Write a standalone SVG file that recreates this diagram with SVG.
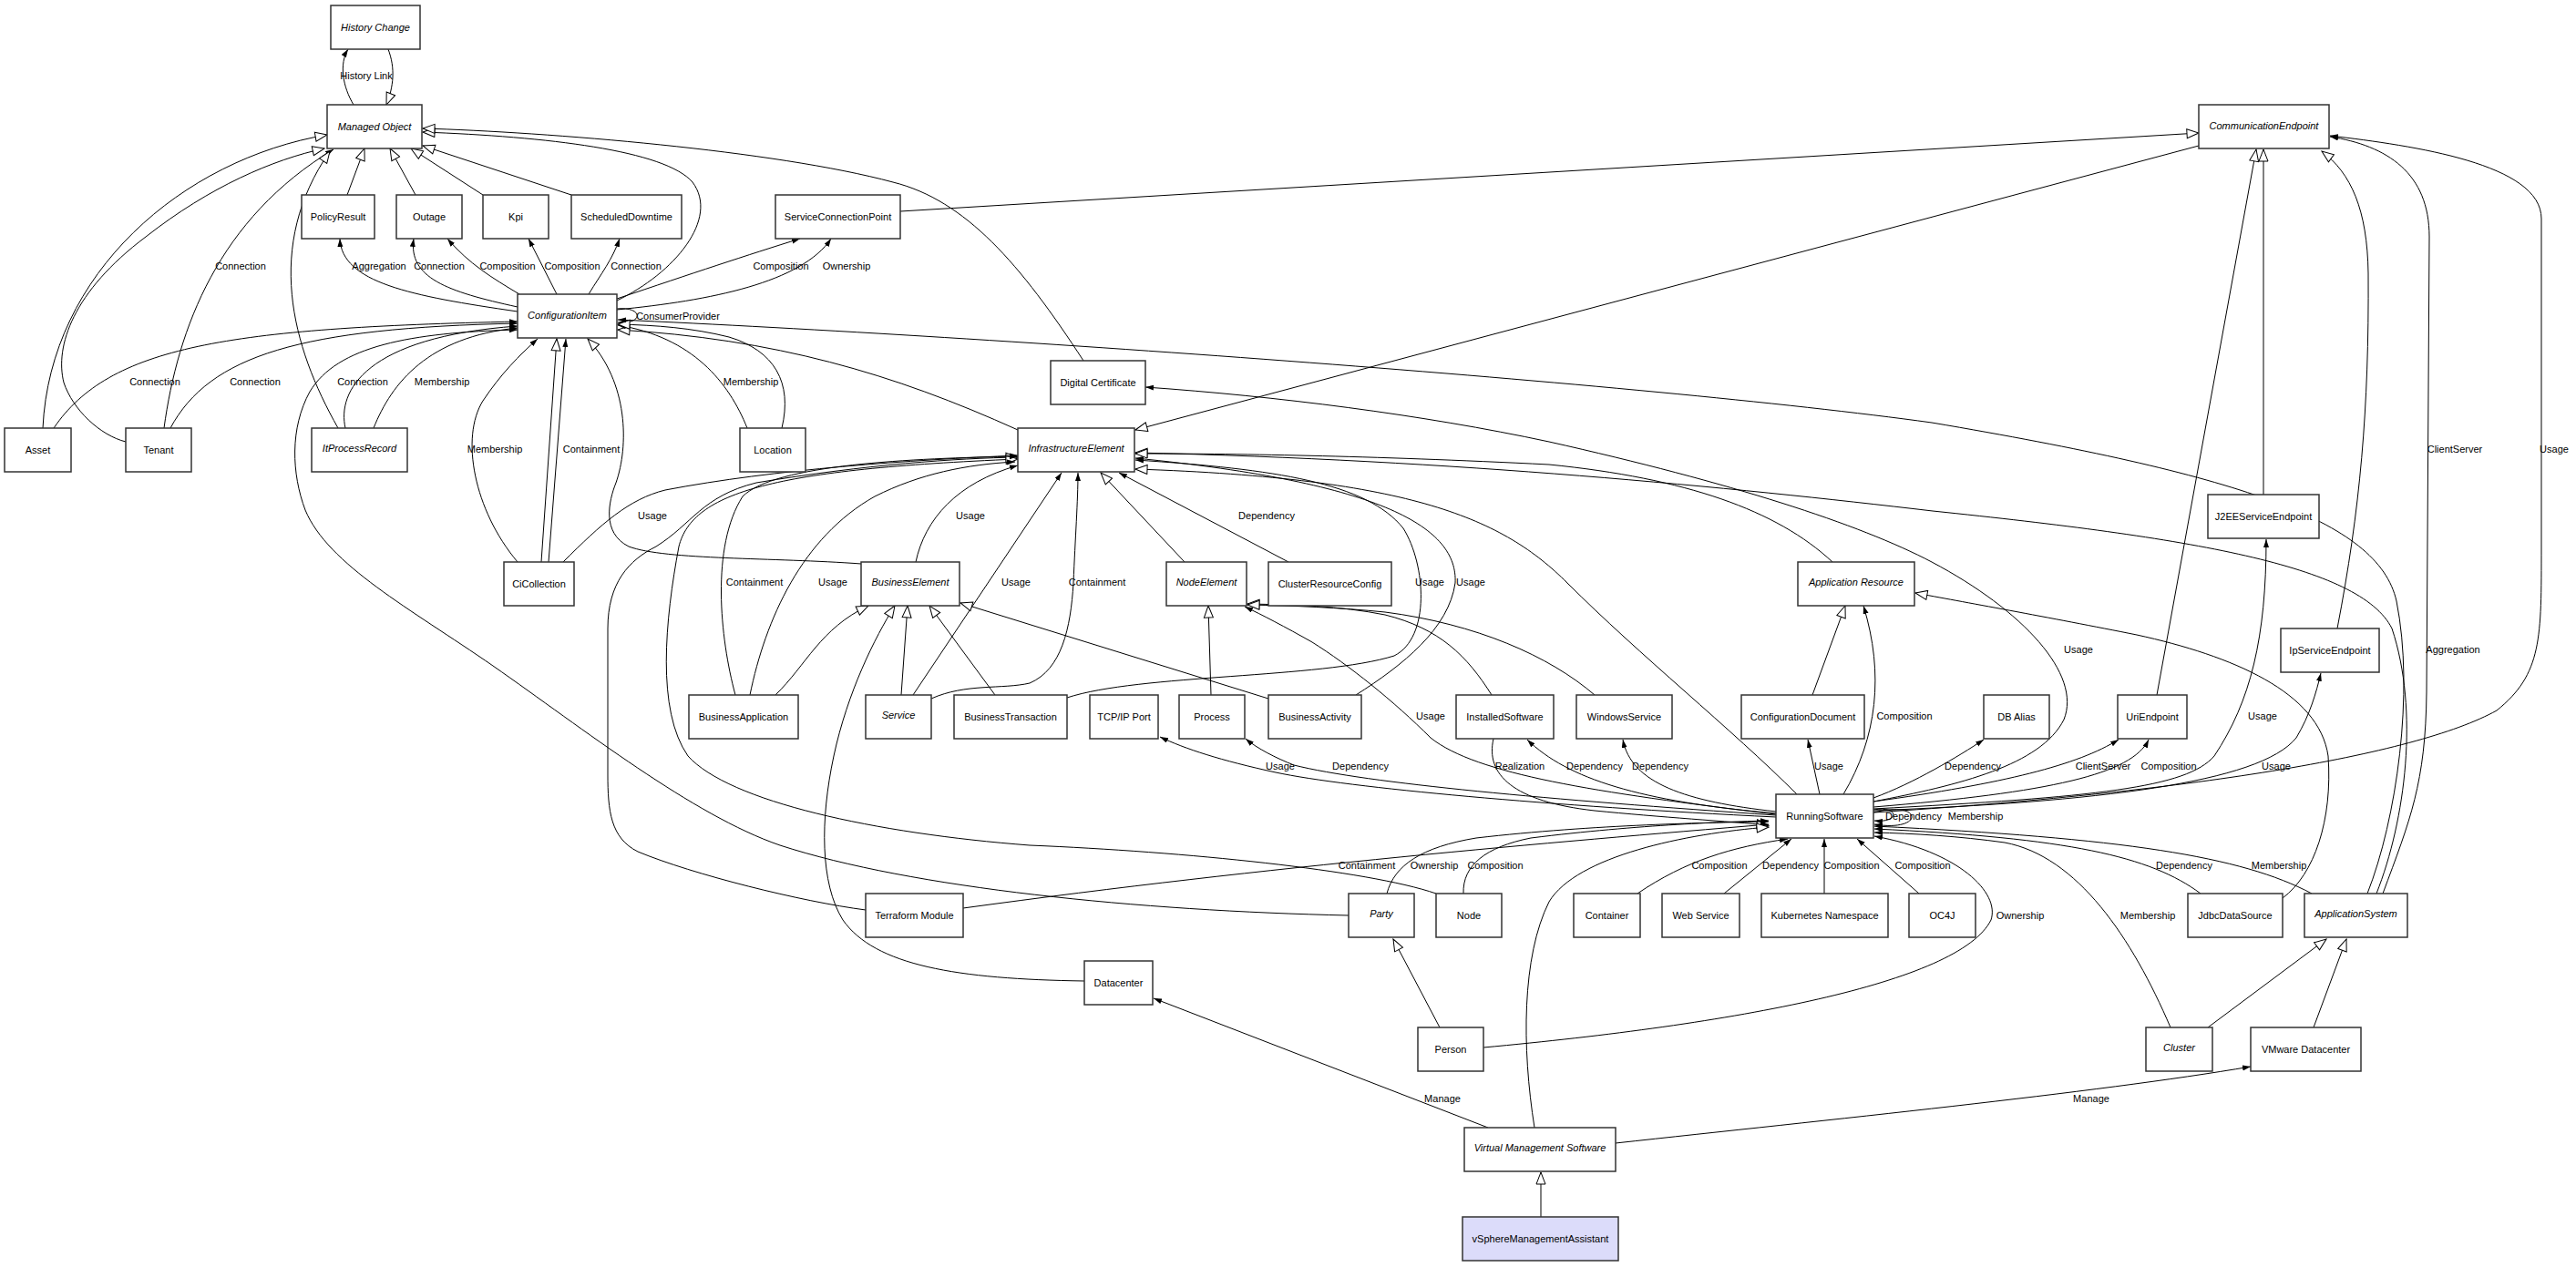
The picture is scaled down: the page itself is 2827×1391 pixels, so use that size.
<svg xmlns="http://www.w3.org/2000/svg" width="2827" height="1391" viewBox="0 0 2827 1391">
<style>
.n rect{fill:#fff;stroke:#333;stroke-width:1.5}
.n text,.lb text{font-family:"Liberation Sans",Arial,sans-serif;font-size:11px;text-anchor:middle;fill:#000}
.n text.i{font-style:italic}
.e path{fill:none;stroke:#000;stroke-width:1}
.g{marker-end:url(#gen)}
.a{marker-end:url(#arr)}
</style>
<defs>
<marker id="gen" markerWidth="16" markerHeight="12" refX="14" refY="6" orient="auto" markerUnits="userSpaceOnUse"><path d="M1,1 L14,6 L1,11 Z" fill="#fff" stroke="#000" stroke-width="1"/></marker>
<marker id="arr" markerWidth="10" markerHeight="8" refX="9" refY="3" orient="auto" markerUnits="userSpaceOnUse"><path d="M0,0 L9,3 L0,6 Z" fill="#000"/></marker>
</defs>
<rect width="2827" height="1391" fill="#fff"/>
<g id="edges" class="e">
<path class="a" d="M388,115 C376,95 372,70 382,54"/>
<path class="g" d="M426,54 C434,75 432,95 424,115"/>
<path class="g" d="M381,214 L400,163"/>
<path class="g" d="M456,214 L428,163"/>
<path class="g" d="M530,214 L451,163"/>
<path class="g" d="M627,214 L464,160"/>
<path class="g" d="M677,330 C740,300 790,240 760,200 C730,165 600,150 464,145"/>
<path class="g" d="M1189,396 C1120,290 1060,220 980,200 C850,165 600,145 464,141"/>
<path class="g" d="M47,470 C55,300 200,175 359,148"/>
<path class="g" d="M138,485 C110,478 80,450 70,420 C60,380 80,320 160,260 C230,205 300,175 356,163"/>
<path class="a" d="M180,470 C195,360 240,240 366,164"/>
<path class="a" d="M59,470 C120,380 250,360 568,353"/>
<path class="a" d="M187,470 C230,390 330,360 568,355"/>
<path class="g" d="M371,470 C320,380 290,270 362,166"/>
<path class="a" d="M379,470 C370,430 400,370 568,358"/>
<path class="a" d="M410,470 C430,420 470,370 568,360"/>
<path class="a" d="M1480,1005 C1250,1000 1000,975 856,928 C760,895 640,800 541,731 C450,668 360,620 335,560 C320,520 318,470 340,430 C370,380 450,365 568,362"/>
<path class="a" d="M568,342 C450,325 375,310 373,262"/>
<path class="a" d="M568,337 C490,320 448,305 454,262"/>
<path class="a" d="M570,323 C540,305 515,290 491,262"/>
<path class="a" d="M611,323 L580,262"/>
<path class="a" d="M646,323 C660,300 672,285 680,262"/>
<path class="a" d="M677,328 C760,300 820,280 878,262"/>
<path class="a" d="M677,340 C780,330 880,310 912,262"/>
<path class="g" d="M988,232 L2413,146"/>
<path class="a" d="M677,339 C705,336 708,356 678,354"/>
<path class="g" d="M1117,472 C980,410 850,372 678,362"/>
<path class="a" d="M820,470 C800,420 760,370 678,357"/>
<path class="g" d="M858,470 C870,420 850,385 800,370 C760,360 720,357 678,356"/>
<path class="a" d="M2598,981 C2630,900 2650,760 2630,660 C2610,570 2450,520 2120,464 C1800,420 1100,370 678,351"/>
<path class="a" d="M2615,981 C2645,900 2662,860 2663,760 L2666,260 C2666,190 2620,160 2557,150"/>
<path class="g" d="M2608,981 C2640,900 2655,780 2625,690 C2590,620 2400,590 2121,561 C1900,535 1600,505 1246,497"/>
<path class="g" d="M2413,160 L1246,472"/>
<path class="g" d="M2367,763 L2476,164"/>
<path class="g" d="M2484,543 L2484,164"/>
<path class="g" d="M2565,690 C2590,560 2600,450 2599,300 C2598,230 2580,190 2548,166"/>
<path class="a" d="M2056,892 C2400,870 2650,830 2740,780 C2790,740 2789,700 2789,600 L2789,240 C2789,180 2650,160 2557,149"/>
<path class="a" d="M1005,617 C1015,570 1050,530 1117,511"/>
<path class="g" d="M945,619 C850,612 730,615 690,600 C660,585 668,550 676,530 C690,490 690,420 645,372"/>
<path class="a" d="M618,617 C660,575 690,548 730,538 C850,515 1000,505 1117,500"/>
<path class="a" d="M568,617 C520,560 505,480 530,440 C550,410 570,390 590,372"/>
<path class="g" d="M594,617 L611,372"/>
<path class="a" d="M602,617 L621,372"/>
<path class="g" d="M950,999 C880,990 760,960 700,935 C670,920 667,890 667,850 L667,690 C667,640 690,615 720,600 C760,575 770,545 830,530 C950,510 1050,503 1117,502"/>
<path class="g" d="M1576,981 C1500,955 1300,935 1130,928 C960,915 800,880 755,830 C720,780 730,680 745,600 C760,540 850,515 1117,504"/>
<path class="a" d="M807,763 C790,700 780,600 815,545 C850,510 1000,503 1117,501"/>
<path class="a" d="M823,763 C840,680 880,590 960,545 C1010,520 1060,510 1114,507"/>
<path class="g" d="M851,763 C885,730 900,690 953,665"/>
<path class="g" d="M989,763 L996,665"/>
<path class="a" d="M1002,763 L1165,519"/>
<path class="a" d="M1022,767 C1060,750 1100,757 1130,750 C1165,735 1175,690 1178,640 C1180,590 1183,550 1183,519"/>
<path class="g" d="M1190,1077 C1050,1075 960,1060 925,1010 C900,970 900,900 915,830 C930,760 960,700 982,665"/>
<path class="g" d="M1092,763 L1020,665"/>
<path class="g" d="M1392,767 L1054,662"/>
<path class="g" d="M1300,617 L1208,519"/>
<path class="a" d="M1414,617 L1228,519"/>
<path class="a" d="M1171,766 C1250,740 1450,745 1530,720 C1570,700 1565,620 1540,580 C1500,530 1400,515 1246,505"/>
<path class="a" d="M1488,763 C1540,730 1590,690 1597,640 C1600,580 1520,530 1246,503"/>
<path class="g" d="M1329,763 L1326,665"/>
<path class="g" d="M1637,763 C1610,720 1580,690 1520,675 C1470,665 1420,664 1369,663"/>
<path class="g" d="M1750,763 C1700,720 1620,685 1520,672 C1470,667 1420,665 1369,664"/>
<path class="a" d="M1949,894 C1750,870 1620,850 1570,810 C1530,770 1480,730 1440,705 C1410,688 1385,675 1366,666"/>
<path class="g" d="M1639,811 C1630,850 1660,880 1750,890 C1820,897 1900,902 1941,906"/>
<path class="a" d="M1949,893 C1800,880 1720,855 1676,812"/>
<path class="a" d="M1949,891 C1850,880 1790,860 1781,812"/>
<path class="a" d="M1997,872 L1984,812"/>
<path class="g" d="M1989,763 L2025,665"/>
<path class="a" d="M2023,872 C2060,810 2068,740 2045,665"/>
<path class="a" d="M1949,897 C1700,885 1480,865 1400,848 C1340,835 1300,822 1273,809"/>
<path class="a" d="M1949,895 C1700,878 1500,860 1420,840 C1400,832 1380,822 1367,811"/>
<path class="a" d="M2056,876 C2100,860 2150,830 2177,812"/>
<path class="a" d="M2056,880 C2200,860 2280,840 2325,812"/>
<path class="a" d="M2056,886 C2250,870 2340,850 2358,812"/>
<path class="a" d="M2056,888 C2300,875 2400,865 2430,830 C2470,770 2487,700 2487,592"/>
<path class="a" d="M2056,890 C2300,880 2480,860 2520,810 C2535,785 2542,760 2547,739"/>
<path class="a" d="M2056,880 C2150,862 2240,840 2265,790 C2285,740 2220,670 2120,617 C2040,575 1900,530 1700,485 C1560,455 1400,435 1257,425"/>
<path class="g" d="M1972,872 C1900,800 1800,720 1720,640 C1650,570 1550,525 1246,515"/>
<path class="g" d="M2011,617 C1950,560 1850,525 1700,510 C1500,500 1350,498 1246,498"/>
<path class="g" d="M2505,986 C2540,960 2560,900 2555,830 C2545,760 2450,720 2345,697 C2250,678 2150,660 2102,651"/>
<path class="a" d="M2056,889 C2085,884 2085,904 2057,901"/>
<path class="a" d="M2056,892 C2112,878 2112,914 2057,905"/>
<path class="a" d="M1057,997 C1400,950 1700,925 1941,905"/>
<path class="a" d="M1522,981 C1530,950 1560,930 1620,920 C1750,905 1880,903 1941,902"/>
<path class="a" d="M1606,981 C1605,950 1630,930 1680,920 C1800,905 1900,902 1941,901"/>
<path class="g" d="M1684,1238 C1670,1150 1670,1050 1700,990 C1730,940 1850,915 1941,908"/>
<path class="a" d="M1797,981 C1850,945 1900,930 1962,921"/>
<path class="a" d="M1892,981 L1966,921"/>
<path class="a" d="M2002,981 L2002,921"/>
<path class="a" d="M2106,981 L2038,921"/>
<path class="a" d="M1628,1150 C1900,1125 2150,1080 2185,1010 C2195,980 2150,935 2057,918"/>
<path class="a" d="M2382,1128 C2340,1030 2280,940 2200,925 C2150,918 2100,915 2057,914"/>
<path class="a" d="M2415,981 C2360,940 2270,920 2057,910"/>
<path class="a" d="M2537,981 C2460,940 2330,920 2057,907"/>
<path class="g" d="M1580,1128 L1529,1031"/>
<path class="a" d="M1633,1238 L1266,1096"/>
<path class="a" d="M1773,1255 C2000,1230 2300,1200 2470,1171"/>
<path class="g" d="M1691,1336 L1691,1287"/>
<path class="g" d="M2423,1128 L2553,1031"/>
<path class="g" d="M2539,1128 L2575,1031"/>
</g>
<g id="labels" class="lb">
<text x="402" y="87">History Link</text>
<text x="416" y="296">Aggregation</text>
<text x="482" y="296">Connection</text>
<text x="557" y="296">Composition</text>
<text x="628" y="296">Composition</text>
<text x="698" y="296">Connection</text>
<text x="857" y="296">Composition</text>
<text x="929" y="296">Ownership</text>
<text x="264" y="296">Connection</text>
<text x="744" y="351">ConsumerProvider</text>
<text x="170" y="423">Connection</text>
<text x="280" y="423">Connection</text>
<text x="398" y="423">Connection</text>
<text x="485" y="423">Membership</text>
<text x="824" y="423">Membership</text>
<text x="543" y="497">Membership</text>
<text x="649" y="497">Containment</text>
<text x="716" y="570">Usage</text>
<text x="1065" y="570">Usage</text>
<text x="1390" y="570">Dependency</text>
<text x="828" y="643">Containment</text>
<text x="914" y="643">Usage</text>
<text x="1115" y="643">Usage</text>
<text x="1204" y="643">Containment</text>
<text x="1569" y="643">Usage</text>
<text x="1614" y="643">Usage</text>
<text x="1570" y="790">Usage</text>
<text x="2090" y="790">Composition</text>
<text x="2483" y="790">Usage</text>
<text x="2281" y="717">Usage</text>
<text x="1405" y="845">Usage</text>
<text x="1493" y="845">Dependency</text>
<text x="1668" y="845">Realization</text>
<text x="1750" y="845">Dependency</text>
<text x="1822" y="845">Dependency</text>
<text x="2007" y="845">Usage</text>
<text x="2165" y="845">Dependency</text>
<text x="2308" y="845">ClientServer</text>
<text x="2380" y="845">Composition</text>
<text x="2498" y="845">Usage</text>
<text x="2694" y="497">ClientServer</text>
<text x="2803" y="497">Usage</text>
<text x="2692" y="717">Aggregation</text>
<text x="2100" y="900">Dependency</text>
<text x="2168" y="900">Membership</text>
<text x="1500" y="954">Containment</text>
<text x="1574" y="954">Ownership</text>
<text x="1641" y="954">Composition</text>
<text x="1887" y="954">Composition</text>
<text x="1965" y="954">Dependency</text>
<text x="2032" y="954">Composition</text>
<text x="2110" y="954">Composition</text>
<text x="2397" y="954">Dependency</text>
<text x="2501" y="954">Membership</text>
<text x="2217" y="1009">Ownership</text>
<text x="2357" y="1009">Membership</text>
<text x="1583" y="1210">Manage</text>
<text x="2295" y="1210">Manage</text>
</g>
<g id="HistoryChange" class="n"><rect x="363" y="6" width="98" height="48"/><text class="i" x="412" y="34">History Change</text></g>
<g id="ManagedObject" class="n"><rect x="359" y="115" width="104" height="48"/><text class="i" x="411" y="143">Managed Object</text></g>
<g id="PolicyResult" class="n"><rect x="331" y="214" width="80" height="48"/><text x="371" y="242">PolicyResult</text></g>
<g id="Outage" class="n"><rect x="435" y="214" width="72" height="48"/><text x="471" y="242">Outage</text></g>
<g id="Kpi" class="n"><rect x="530" y="214" width="72" height="48"/><text x="566" y="242">Kpi</text></g>
<g id="ScheduledDowntime" class="n"><rect x="627" y="214" width="121" height="48"/><text x="687.5" y="242">ScheduledDowntime</text></g>
<g id="ServiceConnectionPoint" class="n"><rect x="851" y="214" width="137" height="48"/><text x="919.5" y="242">ServiceConnectionPoint</text></g>
<g id="CommunicationEndpoint" class="n"><rect x="2413" y="115" width="143" height="48"/><text class="i" x="2484.5" y="142">CommunicationEndpoint</text></g>
<g id="ConfigurationItem" class="n"><rect x="568" y="323" width="109" height="48"/><text class="i" x="622.5" y="350">ConfigurationItem</text></g>
<g id="DigitalCertificate" class="n"><rect x="1153" y="396" width="104" height="48"/><text x="1205" y="424">Digital Certificate</text></g>
<g id="Asset" class="n"><rect x="5" y="470" width="73" height="48"/><text x="41.5" y="498">Asset</text></g>
<g id="Tenant" class="n"><rect x="138" y="470" width="72" height="48"/><text x="174" y="498">Tenant</text></g>
<g id="ItProcessRecord" class="n"><rect x="342" y="470" width="105" height="48"/><text class="i" x="394.5" y="496">ItProcessRecord</text></g>
<g id="Location" class="n"><rect x="812" y="470" width="72" height="48"/><text x="848" y="498">Location</text></g>
<g id="InfrastructureElement" class="n"><rect x="1117" y="470" width="128" height="48"/><text class="i" x="1181" y="496">InfrastructureElement</text></g>
<g id="CiCollection" class="n"><rect x="553" y="617" width="77" height="48"/><text x="591.5" y="645">CiCollection</text></g>
<g id="BusinessElement" class="n"><rect x="945" y="617" width="108" height="48"/><text class="i" x="999" y="643">BusinessElement</text></g>
<g id="NodeElement" class="n"><rect x="1280" y="617" width="88" height="48"/><text class="i" x="1324" y="643">NodeElement</text></g>
<g id="ClusterResourceConfig" class="n"><rect x="1392" y="617" width="135" height="48"/><text x="1459.5" y="645">ClusterResourceConfig</text></g>
<g id="ApplicationResource" class="n"><rect x="1973" y="617" width="128" height="48"/><text class="i" x="2037" y="643">Application Resource</text></g>
<g id="J2EEServiceEndpoint" class="n"><rect x="2423" y="543" width="122" height="48"/><text x="2484" y="571">J2EEServiceEndpoint</text></g>
<g id="IpServiceEndpoint" class="n"><rect x="2503" y="690" width="108" height="48"/><text x="2557" y="718">IpServiceEndpoint</text></g>
<g id="BusinessApplication" class="n"><rect x="756" y="763" width="120" height="48"/><text x="816" y="791">BusinessApplication</text></g>
<g id="Service" class="n"><rect x="950" y="763" width="72" height="48"/><text class="i" x="986" y="789">Service</text></g>
<g id="BusinessTransaction" class="n"><rect x="1047" y="763" width="124" height="48"/><text x="1109" y="791">BusinessTransaction</text></g>
<g id="TCPIPPort" class="n"><rect x="1196" y="763" width="75" height="48"/><text x="1233.5" y="791">TCP/IP Port</text></g>
<g id="Process" class="n"><rect x="1294" y="763" width="72" height="48"/><text x="1330" y="791">Process</text></g>
<g id="BusinessActivity" class="n"><rect x="1392" y="763" width="102" height="48"/><text x="1443" y="791">BusinessActivity</text></g>
<g id="InstalledSoftware" class="n"><rect x="1598" y="763" width="107" height="48"/><text x="1651.5" y="791">InstalledSoftware</text></g>
<g id="WindowsService" class="n"><rect x="1730" y="763" width="105" height="48"/><text x="1782.5" y="791">WindowsService</text></g>
<g id="ConfigurationDocument" class="n"><rect x="1911" y="763" width="135" height="48"/><text x="1978.5" y="791">ConfigurationDocument</text></g>
<g id="DBAlias" class="n"><rect x="2177" y="763" width="72" height="48"/><text x="2213" y="791">DB Alias</text></g>
<g id="UriEndpoint" class="n"><rect x="2324" y="763" width="76" height="48"/><text x="2362" y="791">UriEndpoint</text></g>
<g id="RunningSoftware" class="n"><rect x="1949" y="872" width="107" height="48"/><text x="2002.5" y="900">RunningSoftware</text></g>
<g id="TerraformModule" class="n"><rect x="950" y="981" width="107" height="48"/><text x="1003.5" y="1009">Terraform Module</text></g>
<g id="Party" class="n"><rect x="1480" y="981" width="72" height="48"/><text class="i" x="1516" y="1007">Party</text></g>
<g id="Node" class="n"><rect x="1576" y="981" width="72" height="48"/><text x="1612" y="1009">Node</text></g>
<g id="Container" class="n"><rect x="1727" y="981" width="73" height="48"/><text x="1763.5" y="1009">Container</text></g>
<g id="WebService" class="n"><rect x="1824" y="981" width="85" height="48"/><text x="1866.5" y="1009">Web Service</text></g>
<g id="KubernetesNamespace" class="n"><rect x="1933" y="981" width="139" height="48"/><text x="2002.5" y="1009">Kubernetes Namespace</text></g>
<g id="OC4J" class="n"><rect x="2095" y="981" width="73" height="48"/><text x="2131.5" y="1009">OC4J</text></g>
<g id="JdbcDataSource" class="n"><rect x="2401" y="981" width="104" height="48"/><text x="2453" y="1009">JdbcDataSource</text></g>
<g id="ApplicationSystem" class="n"><rect x="2529" y="981" width="113" height="48"/><text class="i" x="2585.5" y="1007">ApplicationSystem</text></g>
<g id="Datacenter" class="n"><rect x="1190" y="1055" width="75" height="48"/><text x="1227.5" y="1083">Datacenter</text></g>
<g id="Person" class="n"><rect x="1556" y="1128" width="72" height="48"/><text x="1592" y="1156">Person</text></g>
<g id="Cluster" class="n"><rect x="2355" y="1128" width="73" height="48"/><text class="i" x="2391.5" y="1154">Cluster</text></g>
<g id="VMwareDatacenter" class="n"><rect x="2470" y="1128" width="121" height="48"/><text x="2530.5" y="1156">VMware Datacenter</text></g>
<g id="VirtualManagementSoftware" class="n"><rect x="1607" y="1238" width="166" height="48"/><text class="i" x="1690" y="1264">Virtual Management Software</text></g>
<g id="vSphereManagementAssistant" class="n"><rect x="1605" y="1336" width="171" height="48" style="fill:#dcdcfa"/><text x="1690.5" y="1364">vSphereManagementAssistant</text></g>
</svg>
